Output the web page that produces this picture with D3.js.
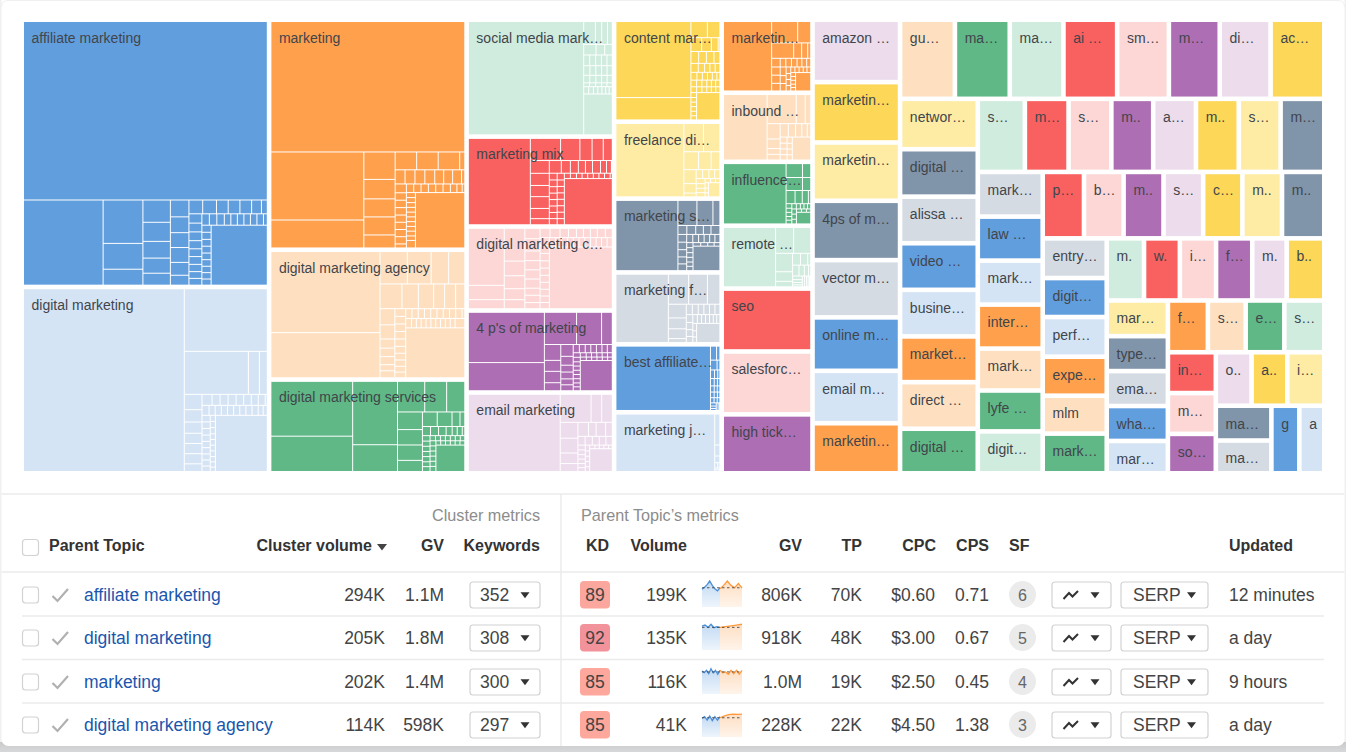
<!DOCTYPE html>
<html>
<head>
<meta charset="utf-8">
<script src="https://cdnjs.cloudflare.com/ajax/libs/d3/7.8.5/d3.min.js"></script>
<style>
  body { margin: 0; background: #f0f0f0; overflow: hidden; }
  svg { display: block; font-family: "Liberation Sans", Arial, sans-serif; }
</style>
</head>
<body>
<svg id="chart" width="1346" height="752"></svg>
<script>
// cluster labels as they show in the picture (truncated ones included)
const clusterNames = [
  "affiliate marketing", "digital marketing", "marketing", "digital marketing agency", "digital marketing services",
  "social media mark…", "marketing mix", "digital marketing c…", "4 p's of marketing", "email marketing",
  "content mar…", "freelance di…", "marketing s…", "marketing f…", "best affiliate…", "marketing j…",
  "marketin…", "inbound …", "influence…", "remote …", "seo", "salesforc…", "high tick…",
  "amazon …", "marketin…", "marketin…", "4ps of m…", "vector m…", "online m…", "email m…", "marketin…",
  "gu…", "ma…", "ma…", "ai …", "sm…", "m…", "di…", "ac…",
  "networ…", "digital …", "alissa …", "video …", "busine…", "market…", "direct …", "digital …",
  "s…", "m…", "s…", "m..", "a…", "m..", "s…", "m…",
  "mark…", "law …", "mark…", "inter…", "mark…", "lyfe …", "digit…",
  "p…", "b…", "m..", "s…", "c…", "m..", "m..",
  "entry…", "digit…", "perf…", "expe…", "mlm", "mark…",
  "m.", "w.", "i…", "f…", "m.", "b..",
  "mar…", "type…", "ema…", "wha…", "mar…",
  "f…", "s…", "e…", "s…",
  "in…", "m…", "so…",
  "o..", "a..", "i…",
  "ma…", "ma…",
  "g", "a"
];

// cluster volume in thousands
const clusterVolumes = [
  294, 205, 202, 114, 82.3,
  76.7, 59, 55.1, 53.8, 53,
  48.8, 36.8, 35.3, 34.4, 32.5, 29.2,
  29.5, 27.9, 25.8, 25.4, 25.4, 25.4, 23.8,
  24.3, 23.5, 22.7, 23.1, 22.3, 20.8, 20.4, 19.5,
  19.3, 19.3, 18.9, 18.9, 18.2, 17.9, 17.9, 18.9,
  17.4, 16.4, 16.1, 16.1, 16.1, 15.8, 16.1, 15.4,
  15.3, 14.2, 13.9, 13.6, 13.9, 13.9, 13.6, 14.2,
  12.9, 12.7, 12.7, 12.7, 12.1, 11.8, 12.1,
  12.2, 11.7, 11.8, 11.7, 11.6, 11.7, 12.5,
  11.3, 11.1, 11.3, 11.1, 10.8, 11.3,
  10.3, 9.9, 10, 10, 9.5, 10.4,
  9.7, 9.5, 9.5, 9.5, 8.8,
  9.2, 8.7, 8.9, 9.2,
  8.7, 8.7, 8.4,
  8.5, 8.5, 8.8,
  8.6, 8.1,
  8.4, 7.5
];

// how many clusters sit in each strip of the squarified layout
const clusterStrips = [2, 3, 5, 6, 7, 8, 8, 8, 8, 7, 7, 6, 6, 5, 4, 3, 3, 2, 2];

// keyword volumes inside the big clusters, one inner array per strip
const affiliateKeywords = [[199], [31], [7.9, 4.7, 2.9], [2.8, 2.4, 2.1, 1.9, 1.5], [1.43, 1.34, 1.26, 1.26, 1.09, 0.84],
  [0.87, 0.87, 0.74, 0.74, 0.74, 0.62, 0.37], [0.55, 0.52, 0.52, 0.48, 0.46, 0.46, 0.43, 0.4, 0.4],
  [0.39, 0.39, 0.39, 0.34, 0.34, 0.34, 0.34, 0.34, 0.34, 0.2], [0.3, 0.3, 0.29, 0.29, 0.28, 0.28, 0.27, 0.27, 0.26], [15.4]];
const digitalKeywords = [[130], [23], [12.2, 2.1, 1.5], [1.2, 0.97, 0.88, 0.8, 0.8, 0.8, 0.6],
  [0.49, 0.39, 0.39, 0.39, 0.37, 0.37, 0.34, 0.34, 0.1], [0.31, 0.27, 0.27, 0.27, 0.27, 0.27, 0.27, 0.27, 0.27, 0.22, 0.18],
  [0.24, 0.24, 0.24, 0.23, 0.23, 0.23, 0.22, 0.22, 0.2], [0.14, 0.14, 0.14, 0.13, 0.13, 0.13, 0.13, 0.12, 0.12, 0.1], [12.9]];
const marketingKeywords = [[112], [28, 11.5], [3.8, 2.7, 2.5, 2.5, 1.8], [1.7, 1.7, 1.7, 0.4], [0.62, 0.62, 0.62, 0.62, 0.56, 0.56, 0.56, 0.2],
  [0.44, 0.37, 0.37, 0.37, 0.36, 0.36, 0.36, 0.36, 0.2], [0.28, 0.28, 0.28, 0.28, 0.28, 0.28, 0.25, 0.2, 0.1],
  [0.2, 0.2, 0.19, 0.19, 0.19, 0.19, 0.19, 0.19, 0.19, 0.18, 0.3], [12.1]];
const agencyKeywords = [[39, 21.7], [3.9, 3.4, 2.5, 2.3], [2.4, 1.8, 1.66, 1.2, 1.2, 1], [1.06, 0.93, 0.6, 0.56, 0.53, 0.4, 0.46],
  [0.37, 0.36, 0.36, 0.36, 0.35, 0.33, 0.32, 0.3, 0.28, 0.27], [0.27, 0.27, 0.27, 0.27, 0.27, 0.27, 0.27, 0.27, 0.27, 0.12],
  [0.24, 0.2, 0.2, 0.2, 0.2, 0.2, 0.2, 0.2, 0.2, 0.2, 0.4], [13]];
const servicesKeywords = [[19.4, 12.5], [12.3, 5.2], [3.6, 2.9, 2.4], [1.9, 1.66, 1.66, 1.2], [0.93, 0.93, 0.5, 0.3],
  [0.32, 0.32, 0.3, 0.24, 0.2, 0.2, 0.1], [0.18, 0.17, 0.17, 0.17, 0.17, 0.16, 0.16], [0.12, 0.11, 0.11, 0.11, 0.11, 0.11, 0.1],
  [0.13, 0.13, 0.13, 0.13, 0.13, 0.13], [0.09, 0.09, 0.09, 0.09, 0.09, 0.09], [3.3]];
const socialKeywords = [[57], [1.17, 0.63, 0.58, 0.48], [0.57, 0.4, 0.35], [0.28, 0.28, 0.27, 0.26, 0.25], [0.26, 0.25, 0.24, 0.23, 0.22],
  [0.2, 0.2, 0.19, 0.18, 0.17], [0.1, 0.1, 0.1, 0.09, 0.09], [0.16, 0.15, 0.14, 0.13, 0.12, 0.11, 0.1], [5.1]];
const mixKeywords = [[23.2], [2.9, 1.85, 1.17, 1.07, 0.87], [1.05, 1, 0.92, 0.97, 0.84, 0.5], [0.66, 0.5, 0.44, 0.39, 0.39, 0.44, 0.33, 0.27, 0.05],
  [0.23, 0.23, 0.22, 0.22, 0.22, 0.22, 0.21, 0.21], [0.21, 0.2, 0.2, 0.2, 0.2, 0.2, 0.2, 0.19], [0.14, 0.14, 0.13, 0.13, 0.13, 0.13, 0.13, 0.13, 0.05], [9.6]];
const dmcKeywords = [[8.8, 2.2, 1.4], [2.9, 1.3, 1.15, 0.97, 0.8], [0.68, 0.8, 0.63, 0.6, 0.6, 0.6, 0.46, 0.48, 0.4],
  [0.4, 0.4, 0.34, 0.32, 0.28, 0.28, 0.28, 0.32, 0.28], [0.32, 0.31, 0.3, 0.29, 0.29, 0.28, 0.28, 0.27, 0.26, 0.25],
  [0.25, 0.24, 0.24, 0.23, 0.23, 0.23, 0.23, 0.22, 0.22, 0.22, 0.21], [16.7]];
const fourPKeywords = [[16.6, 9.3], [4.5, 3.5, 1.5], [1.13, 0.78, 0.81, 0.57], [0.64, 0.48, 0.37, 0.37, 0.32, 0.32],
  [0.22, 0.21, 0.2, 0.2, 0.2, 0.19, 0.18], [0.14, 0.14, 0.13, 0.13, 0.13, 0.13, 0.13, 0.12, 0.12],
  [0.11, 0.1, 0.1, 0.1, 0.1, 0.09], [0.09, 0.08, 0.08, 0.08, 0.08, 0.07], [4.2]];
const emailKeywords = [[30.3], [3.7, 1.27, 1.27], [1.2, 1.12, 0.8, 0.6], [0.63, 0.46, 0.57, 0.4], [0.27, 0.27, 0.26, 0.25, 0.24],
  [0.15, 0.15, 0.14, 0.14, 0.13, 0.12], [0.11, 0.1, 0.1, 0.1, 0.09], [0.08, 0.07, 0.07, 0.07, 0.06], [2.2]];
const contentKeywords = [[24.2, 7.1], [1.13, 0.86], [0.63, 0.57, 0.4, 0.1], [0.39, 0.39, 0.38, 0.3], [0.28, 0.24, 0.2, 0.2, 0.18],
  [0.2, 0.18, 0.17, 0.16, 0.15, 0.1], [0.16, 0.15, 0.14, 0.13, 0.12, 0.12], [0.14, 0.13, 0.12, 0.11, 0.11, 0.1],
  [0.12, 0.11, 0.11, 0.11, 0.11, 0.1], [2.7]];
const freelanceKeywords = [[21.6], [2.4, 2], [1.13, 0.98, 0.68], [0.74, 0.5, 0.2], [0.25, 0.24, 0.22, 0.2], [0.2, 0.18, 0.17, 0.16],
  [0.1, 0.09, 0.08], [0.08, 0.07, 0.06], [0.7]];
const marketingSKeywords = [[19.2], [2.1, 1.77, 0.77], [0.35, 0.35, 0.3, 0.3, 0.35], [0.3, 0.29, 0.28, 0.27, 0.26],
  [0.22, 0.21, 0.2, 0.2, 0.19, 0.18], [0.14, 0.14, 0.13, 0.13, 0.12, 0.12], [0.12, 0.11, 0.1, 0.09], [2.9]];
const marketingFKeywords = [[15.3], [2.6, 2.4, 1.6], [1.05, 0.83, 0.75, 0.3], [0.27, 0.26, 0.25, 0.25, 0.24, 0.22], [0.22, 0.2, 0.19, 0.17],
  [0.17, 0.16, 0.15, 0.15, 0.14, 0.13, 0.12], [0.12, 0.1, 0.09], [1.9]];
const bestAffiliateKeywords = [[26.3], [0.37, 0.2], [0.28, 0.12], [0.15, 0.12, 0.08], [0.12, 0.1, 0.08], [0.1, 0.08, 0.07], [0.09, 0.08, 0.06],
  [0.08, 0.07, 0.06], [0.08, 0.06, 0.05], [0.06, 0.05, 0.01]];
const marketingJKeywords = [[24.7], [0.7], [0.25], [0.15], [0.07, 0.05], [0.04, 0.04]];
const marketinKeywords = [[14.4], [2.4, 1.2], [1.46, 0.53, 0.4, 0.2], [0.32, 0.3, 0.3, 0.28], [0.21, 0.21, 0.21, 0.18, 0.18, 0.15],
  [0.22, 0.2, 0.19], [0.13, 0.12, 0.12, 0.11], [0.1, 0.1, 0.1, 0.09, 0.09], [0.08, 0.08, 0.08, 0.07, 0.07], [1.2]];
const inboundKeywords = [[11.5], [3.4, 1.06, 0.64], [0.8, 0.5, 0.3, 0.3], [0.44, 0.39, 0.34, 0.29, 0.19], [0.17, 0.16, 0.16, 0.15],
  [0.13, 0.12, 0.12, 0.11], [1.7]];
const influenceKeywords = [[15.9], [0.96, 0.48], [0.9, 0.45], [0.5, 0.4, 0.34, 0.13], [0.11, 0.1, 0.1, 0.09, 0.09], [0.1, 0.09, 0.08, 0.08, 0.07],
  [0.1, 0.1, 0.09], [0.07, 0.07, 0.06], [0.7]];
const remoteKeywords = [[13.3], [2, 1.9], [1.35, 0.7, 0.4], [0.4, 0.37, 0.15], [0.3, 0.25, 0.2, 0.1], [0.15, 0.12, 0.1, 0.08], [0.1, 0.09, 0.08, 0.07, 0.05]];

const clusterKeywords = [affiliateKeywords, digitalKeywords, marketingKeywords, agencyKeywords, servicesKeywords,
  socialKeywords, mixKeywords, dmcKeywords, fourPKeywords, emailKeywords, contentKeywords, freelanceKeywords,
  marketingSKeywords, marketingFKeywords, bestAffiliateKeywords, marketingJKeywords, marketinKeywords, inboundKeywords,
  influenceKeywords, remoteKeywords];

const palette = ["#619ede", "#d5e4f5", "#ffa04d", "#fee0c1", "#5fb885", "#d0ecde", "#f96060",
  "#fcd7d6", "#ad6eb3", "#ecdcec", "#fcd758", "#feeca4", "#8094aa", "#d5dbe3"];

// table columns
const topicNames = ["affiliate marketing", "digital marketing", "marketing", "digital marketing agency"];
const clusterVolumeLabels = ["294K", "205K", "202K", "114K"];
const clusterGvLabels = ["1.1M", "1.8M", "1.4M", "598K"];
const keywordCounts = ["352", "308", "300", "297"];
const kdValues = [89, 92, 85, 85];
const volumeLabels = ["199K", "135K", "116K", "41K"];
const gvLabels = ["806K", "918K", "1.0M", "228K"];
const tpLabels = ["70K", "48K", "19K", "22K"];
const cpcLabels = ["$0.60", "$3.00", "$2.50", "$4.50"];
const cpsLabels = ["0.71", "0.67", "0.45", "1.38"];
const sfCounts = [6, 5, 4, 3];
const updatedLabels = ["12 minutes", "a day", "9 hours", "a day"];

// sparklines on a 0-100 scale of the small chart height
const sparkPast = [
  [68, 76, 86, 100, 83, 70, 62, 74],
  [92, 96, 87, 99, 86, 90, 87],
  [88, 82, 91, 78, 97, 81, 91, 76, 91],
  [72, 78, 65, 81, 63, 78, 65, 78]
];
const sparkRecent = [
  [70, 83, 100, 83, 74, 90, 73],
  [87, 90, 93, 96, 99],
  [91, 82, 85, 76, 91, 78, 91, 76, 91],
  [74, 81, 86, 88, 87, 88]
];
const sparkBaseline = [74, 87, 85, 74];

const rowCenters = [595, 638, 682, 725];
const kdColor = d3.scaleLinear().domain([85, 89, 92]).range(["#fea89d", "#fca79e", "#f2929a"]);

const svg = d3.select("#chart");

// ---- page frame ----
const defs = svg.append("defs");
const shade = defs.append("linearGradient").attr("id", "pageShade").attr("x1", 0).attr("y1", 0).attr("x2", 0).attr("y2", 1);
shade.append("stop").attr("offset", 0).attr("stop-color", "#c8cacb");
shade.append("stop").attr("offset", 1).attr("stop-color", "#d6d8d9");
svg.append("rect").attr("y", 742).attr("width", 1346).attr("height", 10).attr("fill", "url(#pageShade)");
svg.append("rect").attr("x", 1.5).attr("y", -8).attr("width", 1343).attr("height", 754).attr("rx", 7).attr("fill", "#fff");
svg.append("path").attr("d", "M1.5 7 Q1.5 0.5 8 0.5 L1338 0.5 Q1344.5 0.5 1344.5 7").attr("fill", "none").attr("stroke", "#f0f0f0");

// ---- treemap ----
// same idea as a squarified tiling, but the strip breaks come from the data
function stripTile(parent, x0, y0, x1, y1) {
  let remaining = d3.sum(parent.children, d => d.value);
  let i = 0;
  parent.data.strips.forEach(count => {
    const nodes = parent.children.slice(i, i + count);
    i += count;
    const sum = d3.sum(nodes, d => d.value);
    const strip = { children: nodes, value: sum };
    if (y1 - y0 < x1 - x0) {
      const xe = x0 + (x1 - x0) * sum / remaining;
      d3.treemapSlice(strip, x0, y0, xe, y1);
      x0 = xe;
    } else {
      const ye = y0 + (y1 - y0) * sum / remaining;
      d3.treemapDice(strip, x0, y0, x1, ye);
      y0 = ye;
    }
    remaining -= sum;
  });
}

const treeData = {
  strips: clusterStrips,
  children: clusterNames.map((name, i) => {
    const rows = clusterKeywords[i];
    const cluster = { name, index: i, volume: clusterVolumes[i] };
    if (rows) {
      cluster.strips = rows.map(r => r.length);
      cluster.children = rows.flat().map(v => ({ volume: v }));
    }
    return cluster;
  })
};

const root = d3.hierarchy(treeData).sum(d => (d.children ? 0 : d.volume));
// cluster areas follow the cluster volume, keywords only split it
root.children.forEach(c => { c.value = c.data.volume; });

d3.treemap()
  .size([1298, 449])
  .tile(stripTile)
  .paddingInner(d => (d.depth === 0 ? 4.6 : 1))(root);

const color = d3.scaleOrdinal().domain(d3.range(palette.length)).range(palette);
const clusterIndex = d => (d.depth === 1 ? d.data.index : d.parent.data.index);

const map = svg.append("g").attr("transform", "translate(24,22)");

map.selectAll("rect.cell")
  .data(root.leaves())
  .join("rect")
  .attr("class", "cell")
  .attr("x", d => d.x0)
  .attr("y", d => d.y0)
  .attr("width", d => Math.max(0, d.x1 - d.x0))
  .attr("height", d => Math.max(0, d.y1 - d.y0))
  .attr("fill", d => color(clusterIndex(d) % palette.length));

map.selectAll("text.label")
  .data(root.children)
  .join("text")
  .attr("class", "label")
  .attr("x", d => d.x0 + 7.5)
  .attr("y", d => d.y0 + 20.5)
  .attr("font-size", 14)
  .attr("fill", "#41454b")
  .text(d => d.data.name);

// ---- table frame ----
const lineColor = "#ebebeb";
svg.append("line").attr("x1", 1.5).attr("x2", 1344.5).attr("y1", 494).attr("y2", 494).attr("stroke", lineColor).attr("stroke-width", 1.5);
svg.append("line").attr("x1", 561).attr("x2", 561).attr("y1", 494).attr("y2", 746).attr("stroke", lineColor).attr("stroke-width", 1.5);
svg.append("line").attr("x1", 1.5).attr("x2", 1344.5).attr("y1", 572).attr("y2", 572).attr("stroke", lineColor).attr("stroke-width", 1.5);
[616, 659.5, 703].forEach(y => {
  svg.append("line").attr("x1", 22).attr("x2", 1324).attr("y1", y).attr("y2", y).attr("stroke", lineColor).attr("stroke-width", 1.5);
});

function addText(x, y, text, opts = {}) {
  return svg.append("text")
    .attr("x", x).attr("y", y).attr("dy", "0.35em")
    .attr("text-anchor", opts.anchor || "start")
    .attr("font-size", opts.size || 17.5)
    .attr("font-weight", opts.weight || "normal")
    .attr("fill", opts.color || "#444")
    .text(text);
}

function addBox(x, y, w, h, r) {
  return svg.append("rect").attr("x", x).attr("y", y).attr("width", w).attr("height", h).attr("rx", r)
    .attr("fill", "#fff").attr("stroke", "#d2d2d2").attr("stroke-width", 1.2);
}

function addCaret(cx, cy, size = 9, fill = "#333") {
  svg.append("path")
    .attr("d", d3.line()([[cx - size / 2, cy - size * 0.3], [cx + size / 2, cy - size * 0.3], [cx, cy + size * 0.35]]) + "Z")
    .attr("fill", fill);
}

// ---- header ----
const head = { size: 16, weight: "bold", color: "#333" };
addText(540, 515, "Cluster metrics", { size: 16.2, color: "#8c8c8c", anchor: "end" });
addText(581, 515, "Parent Topic’s metrics", { size: 16.2, color: "#8c8c8c" });
addBox(22.5, 539.5, 16, 16, 3);
addText(49, 545.5, "Parent Topic", head);
addText(372, 545.5, "Cluster volume", { ...head, anchor: "end" });
addCaret(382, 547, 10, "#444");
addText(444, 545.5, "GV", { ...head, anchor: "end" });
addText(540, 545.5, "Keywords", { ...head, anchor: "end" });
addText(609, 545.5, "KD", { ...head, anchor: "end" });
addText(687, 545.5, "Volume", { ...head, anchor: "end" });
addText(802, 545.5, "GV", { ...head, anchor: "end" });
addText(862, 545.5, "TP", { ...head, anchor: "end" });
addText(936, 545.5, "CPC", { ...head, anchor: "end" });
addText(989, 545.5, "CPS", { ...head, anchor: "end" });
addText(1009, 545.5, "SF", head);
addText(1229, 545.5, "Updated", head);

// ---- sparklines ----
const sparkHeight = 26;
[["sparkPastFill", "#c3daf3", "#eef5fc"], ["sparkRecentFill", "#fddfc4", "#fff4ea"]].forEach(([id, top, bottom]) => {
  const g = defs.append("linearGradient").attr("id", id).attr("x1", 0).attr("y1", 0).attr("x2", 0).attr("y2", 1);
  g.append("stop").attr("offset", 0).attr("stop-color", top);
  g.append("stop").attr("offset", 1).attr("stop-color", bottom);
});

function drawSpark(cy, past, recent, baseline) {
  const top = cy - 14;
  const y = d3.scaleLinear().domain([0, 100]).range([top + sparkHeight, top]);
  const pastX = d3.scaleLinear().domain([0, past.length - 1]).range([702, 720]);
  const recentX = d3.scaleLinear().domain([0, recent.length - 1]).range([720, 742]);
  [[past, pastX, "sparkPastFill", "#4a90d9"], [recent, recentX, "sparkRecentFill", "#ff9a3c"]].forEach(([vals, x, fill, stroke]) => {
    const area = d3.area().x((d, i) => x(i)).y0(y(0)).y1(d => y(d));
    const line = d3.line().x((d, i) => x(i)).y(d => y(d));
    svg.append("path").attr("d", area(vals)).attr("fill", `url(#${fill})`);
    svg.append("path").attr("d", line(vals)).attr("fill", "none").attr("stroke", stroke).attr("stroke-width", 1.3);
  });
  svg.append("line").attr("x1", 702).attr("x2", 742).attr("y1", y(baseline)).attr("y2", y(baseline))
    .attr("stroke", "#333").attr("stroke-width", 0.8).attr("stroke-dasharray", "2.5,2.5");
}

// ---- rows ----
rowCenters.forEach((cy, i) => {
  addBox(22.5, cy - 8, 16, 16, 3);
  svg.append("path").attr("d", `M52.5 ${cy + 1} L57.5 ${cy + 6} L68 ${cy - 6}`)
    .attr("fill", "none").attr("stroke", "#b0b0b0").attr("stroke-width", 2.2);
  addText(84, cy, topicNames[i], { color: "#1a56ad" });
  addText(385, cy, clusterVolumeLabels[i], { anchor: "end" });
  addText(444, cy, clusterGvLabels[i], { anchor: "end" });

  addBox(470, cy - 13, 70, 26, 3);
  addText(480, cy, keywordCounts[i]);
  addCaret(525, cy);

  svg.append("rect").attr("x", 580).attr("y", cy - 14).attr("width", 30).attr("height", 27.5).attr("rx", 4)
    .attr("fill", kdColor(kdValues[i]));
  addText(595, cy, kdValues[i], { anchor: "middle" });

  addText(687, cy, volumeLabels[i], { anchor: "end" });
  drawSpark(cy, sparkPast[i], sparkRecent[i], sparkBaseline[i]);
  addText(802, cy, gvLabels[i], { anchor: "end" });
  addText(862, cy, tpLabels[i], { anchor: "end" });
  addText(935, cy, cpcLabels[i], { anchor: "end" });
  addText(989, cy, cpsLabels[i], { anchor: "end" });

  svg.append("circle").attr("cx", 1022.5).attr("cy", cy - 0.5).attr("r", 13.5).attr("fill", "#ebebeb");
  addText(1022.5, cy, sfCounts[i], { anchor: "middle", color: "#666", size: 16 });

  addBox(1052, cy - 13, 59, 26, 3);
  svg.append("path").attr("d", `M1063.5 ${cy + 4} L1069 ${cy - 2} L1072.5 ${cy + 1.5} L1078 ${cy - 4}`)
    .attr("fill", "none").attr("stroke", "#333").attr("stroke-width", 2);
  addCaret(1095, cy);

  addBox(1121, cy - 13, 87, 26, 3);
  addText(1133, cy, "SERP");
  addCaret(1191.5, cy);

  addText(1229, cy, updatedLabels[i]);
});
</script>
</body>
</html>
